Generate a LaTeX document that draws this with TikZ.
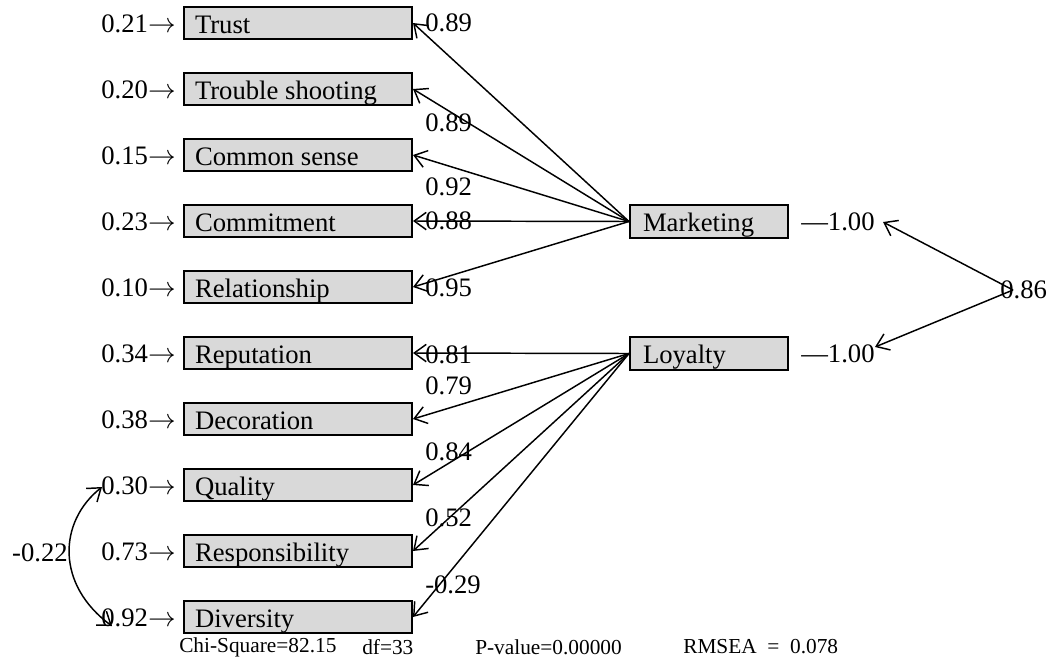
\documentclass[tikz,border=0pt]{standalone}
\usepackage{fontspec}
\setmainfont{Liberation Serif}
\usetikzlibrary{arrows.meta}
\newcommand{\obstext}[1]{\makebox[154.5pt][l]{#1}}
\newcommand{\lattext}[1]{\makebox[99pt][l]{#1}}
\tikzset{
  obs/.style={draw, line width=1.5pt, fill=gray!30, minimum height=24pt, inner xsep=8.25pt, inner ysep=0pt, text height=15pt, text depth=0pt, anchor=center, font=\fontsize{20}{22}\selectfont},
  lat/.style={draw, line width=1.5pt, fill=gray!30, minimum height=24.75pt, inner xsep=9.75pt, inner ysep=0pt, text height=15pt, text depth=0pt, anchor=center, font=\fontsize{20}{22}\selectfont},
  lab/.style={font=\fontsize{20}{22}\selectfont, inner sep=0pt},
  small/.style={font=\fontsize{16}{18}\selectfont, inner sep=0pt, anchor=west},
  path/.style={line width=1.1pt, -{Straight Barb[length=9pt,width=13pt,line width=1.1pt]}},
  dpath/.style={line width=1.1pt, {Straight Barb[length=9pt,width=13pt,line width=1.1pt]}-{Straight Barb[length=9pt,width=13pt,line width=1.1pt]}},
}
\begin{document}
\begin{tikzpicture}[x=0.75pt,y=-0.75pt]
\useasboundingbox (0,0) rectangle (1050,665);
% observed variables
\foreach \n/\t/\y/\e in {o1/Trust/23/0.21, o2/Trouble shooting/89/0.20, o3/Common sense/155/0.15, o4/Commitment/221/0.23, o5/Relationship/287/0.10, o6/Reputation/353/0.34, o7/Decoration/419/0.38, o8/Quality/485/0.30, o9/Responsibility/551/0.73, o10/Diversity/617/0.92}{
  \node[obs] (\n) at (298,\y) {\obstext{\t}};
  \node[lab, anchor=east] (e\n) at (176,\y+1) {\e$\rightarrow$};
}
% latent variables
\node[lat] (mk) at (709,221.5) {\lattext{Marketing}};
\node[lat] (ly) at (709,353.5) {\lattext{Loyalty}};
\node[lab, anchor=west] (vm) at (801,222) {—1.00};
\node[lab, anchor=west] (vl) at (801,354) {—1.00};
\node[lab, anchor=west] (cr) at (1000,290) {0.86};
\coordinate (crs) at (1013,290);
\coordinate (vmt) at (883,222);
\coordinate (vlt) at (875,347);
\draw[path] (crs) -- (vmt);
\draw[path] (crs) -- (vlt);
% loadings
\foreach \n in {o1,o2,o3,o4,o5}{\draw[path] (mk.west) -- (\n.east);}
\foreach \n in {o6,o7,o8,o9,o10}{\draw[path] (ly.west) -- (\n.east);}
% loading labels
\foreach \v/\y in {0.89/23, 0.89/123, 0.92/187, 0.88/221, 0.95/288, 0.81/355, 0.79/386, 0.84/452, 0.52/518, -0.29/585}{
  \node[lab, anchor=west] at (425,\y) {\v};
}
% error covariance
\coordinate (q1) at (102,487);
\coordinate (q2) at (112,626);
\draw[dpath] (q1) .. controls (58,522) and (56,585) .. (q2);
\node[lab, anchor=east] (cv) at (68,553) {-0.22};
% fit statistics
\node[small] (chi) at (179,647) {Chi-Square=82.15};
\node[small] (df) at (362,647) {df=33};
\node[small] (pv) at (475,647) {P-value=0.00000};
\node[small] (rm) at (683,647) {RMSEA\ \ =\ \ 0.078};
\end{tikzpicture}
\end{document}
